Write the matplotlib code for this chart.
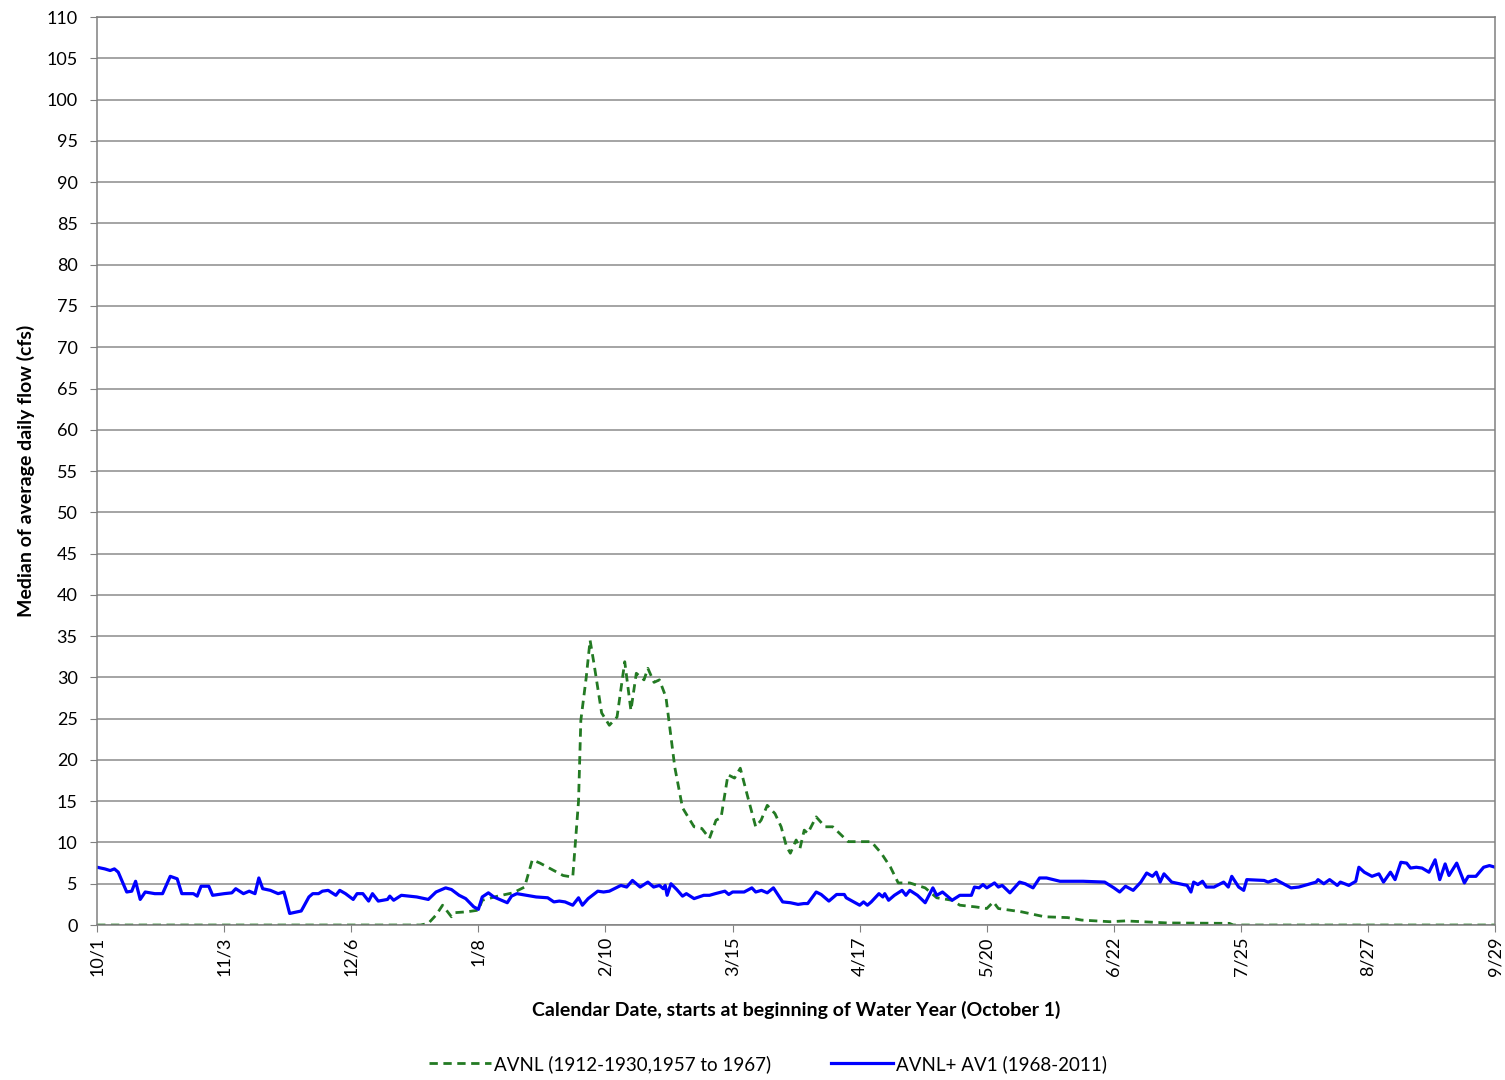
import numpy as np
import matplotlib.pyplot as plt
from matplotlib.ticker import MultipleLocator

plt.rcParams['font.family'] = ['Lato', 'DejaVu Sans']

# day of water year (0 = Oct 1) and median flow (cfs)
avnl_day = [0, 84, 86, 88, 89.7, 92, 93, 96, 99, 100, 104, 108, 111, 113, 115, 117,
            121, 123.5, 125, 125.6, 127, 128, 129, 131, 133, 135, 137, 138.6, 140,
            142, 143, 144.6, 146, 147.7, 150, 152, 155, 157, 159, 160.7, 162, 163.8,
            165.5, 167, 169, 171, 172.4, 174, 176, 177.6, 179, 180, 181.5, 182.5,
            183.6, 184.5, 186.7, 189, 191, 195, 201, 203.6, 206, 208, 211, 215, 218,
            222, 224, 228, 231, 232.7, 234, 240, 246, 252, 255.6, 263, 267, 278, 294,
            295, 363]
avnl_flow = [0, 0, 0.2, 1.2, 2.4, 1.0, 1.5, 1.6, 1.8, 3.0, 3.5, 3.9, 4.6, 7.9, 7.5, 7.0,
             6.0, 5.8, 15.0, 24.8, 30.0, 34.5, 31.7, 25.7, 24.2, 25.2, 31.9, 26.0, 30.5,
             29.7, 31.1, 29.4, 29.7, 27.6, 19.1, 14.2, 11.9, 11.7, 10.5, 12.7, 13.0, 18.2,
             17.8, 19.0, 15.4, 11.9, 12.7, 14.5, 13.5, 11.9, 9.5, 8.7, 10.3, 9.3,
             11.5, 11.1, 13.1, 11.9, 11.9, 10.1, 10.1, 8.7, 7.0, 5.1, 5.1, 4.5, 3.3,
             3.0, 2.4, 2.2, 2.0, 2.8, 2.0, 1.6, 1.0, 0.9, 0.6, 0.4, 0.5, 0.25, 0.2,
             0, 0]

av1_day = [0, 2, 3.4, 4.5, 5.5, 6.8, 7.7, 9, 10, 11.2, 12.5, 15, 17, 19, 20.8, 22, 25,
           26, 27, 29, 30, 33, 35, 36, 38, 39.5, 41, 42, 43, 45, 47, 48.5, 49, 50, 53,
           53.6, 55, 56, 57.5, 58.5, 60, 62, 63, 64.5, 66.5, 67.5, 69, 70.5, 71.5, 73,
           75.4, 76, 77, 79, 81, 83, 86, 88, 90.5, 92, 94, 95.7, 97.8, 99, 100, 101.6,
           103, 106.5, 107.6, 109, 114, 117, 118.6, 120, 121.5, 123.5, 125, 126, 127.5,
           130, 131.5, 133, 136, 137.5, 139, 141, 143, 144.5, 146, 147, 147.5, 148, 149,
           150.5, 152, 153, 155, 157.5, 159, 160.5, 163, 164, 165, 168, 170, 171,
           172.5, 174, 175.6, 178, 180, 182, 183.5, 184.5, 186.7, 188, 190, 192, 194,
           194.5, 198, 199, 200, 201, 203, 204, 204.5, 205.5, 207, 209, 210, 211, 213,
           215, 217, 218, 219.5, 222, 224, 227, 227.8, 229, 230, 231, 233, 234, 235,
           237, 239.5, 241, 243, 244.7, 246.5, 250, 256, 261.6, 264, 265.5, 267, 269,
           271, 272.5, 274, 275, 276, 277, 279, 283, 284, 284.7, 285.8, 287, 288, 290,
           292.5, 293.7, 294.6, 296.4, 297.7, 298.5, 303, 304, 306, 308, 310, 312, 315,
           316.5, 317, 318.5, 320, 322, 322.8, 325, 326.8, 327.6, 329, 331, 332.8, 334,
           335.8, 337, 338.5, 340, 341, 342.5, 344, 345.8, 347.4, 348.6, 350, 351, 353,
           355, 356, 358, 360, 361.5, 363]
av1_flow = [7.0, 6.8, 6.6, 6.8, 6.4, 5.0, 4.0, 4.1, 5.3, 3.1, 4.0, 3.8, 3.8, 5.9, 5.6,
            3.8, 3.8, 3.5, 4.7, 4.7, 3.6, 3.8, 3.9, 4.4, 3.8, 4.1, 3.8, 5.7, 4.4, 4.2,
            3.8, 4.0, 3.2, 1.4, 1.7, 2.2, 3.4, 3.8, 3.8, 4.1, 4.2, 3.6, 4.2, 3.8, 3.1,
            3.8, 3.8, 2.9, 3.8, 2.9, 3.1, 3.5, 3.0, 3.6, 3.5, 3.4, 3.1, 4.0, 4.5, 4.3,
            3.6, 3.2, 2.2, 1.9, 3.4, 3.9, 3.4, 2.7, 3.5, 3.8, 3.4, 3.3, 2.8, 2.9, 2.8,
            2.4, 3.3, 2.4, 3.2, 4.1, 4.0, 4.1, 4.8, 4.6, 5.4, 4.6, 5.2, 4.6, 4.8, 4.4,
            4.8, 3.6, 5.0, 4.3, 3.5, 3.8, 3.2, 3.6, 3.6, 3.8, 4.1, 3.7, 4.0, 4.0, 4.5,
            4.0, 4.2, 3.9, 4.5, 2.8, 2.7, 2.5, 2.6, 2.6, 4.0, 3.7, 2.9, 3.7, 3.7, 3.3,
            2.4, 2.8, 2.4, 2.8, 3.8, 3.4, 3.8, 3.0, 3.6, 4.2, 3.6, 4.2, 3.6, 2.7, 4.5,
            3.6, 4.0, 3.0, 3.6, 3.6, 4.6, 4.5, 4.9, 4.5, 5.1, 4.6, 4.8, 3.9, 5.2, 5.0,
            4.5, 5.7, 5.7, 5.3, 5.3, 5.2, 4.5, 4.0, 4.7, 4.2, 5.2, 6.3, 5.9, 6.4, 5.2,
            6.2, 5.2, 4.8, 4.0, 5.2, 4.9, 5.3, 4.6, 4.6, 5.2, 4.6, 5.9, 4.6, 4.2, 5.5,
            5.4, 5.2, 5.5, 5.0, 4.5, 4.6, 5.0, 5.2, 5.5, 5.0, 5.5, 4.8, 5.2, 4.8, 5.3,
            7.0, 6.4, 5.9, 6.2, 5.2, 6.4, 5.5, 7.6, 7.5, 6.9, 7.0, 6.9, 6.4, 7.9, 5.5,
            7.4, 6.0, 7.5, 5.1, 5.9, 5.9, 7.0, 7.2, 7.0]

tick_days = np.arange(0, 364, 33)
tick_labels = ['10/1', '11/3', '12/6', '1/8', '2/10', '3/15', '4/17', '5/20',
               '6/22', '7/25', '8/27', '9/29']

fig = plt.figure(figsize=(15.05, 10.8), dpi=100)
ax = fig.add_axes([0.0645, 0.1435, 0.9290, 0.8407])

ax.plot(avnl_day, avnl_flow, color='#237a23', linestyle=(0, (3, 2)), linewidth=2,
        label='AVNL (1912-1930,1957 to 1967)')
ax.plot(av1_day, av1_flow, color='#0000ff', linewidth=2.3,
        label='AVNL+ AV1 (1968-2011)')

ax.set_xlim(0, 363)
ax.set_ylim(0, 110)
ax.yaxis.set_major_locator(MultipleLocator(5))
ax.set_xticks(tick_days)
ax.set_xticklabels(tick_labels, rotation=90, fontsize=13)
ax.tick_params(axis='y', labelsize=13, length=5, color='#808080', pad=9)
ax.tick_params(axis='x', length=5, color='#808080')
ax.grid(axis='y', color='#8c8c8c', linewidth=1.1)
ax.set_axisbelow(True)
for s in ax.spines.values():
    s.set_color('#808080')
    s.set_linewidth(1.1)

ax.set_ylabel('Median of average daily flow (cfs)', fontsize=14, fontweight='bold',
              labelpad=8)
ax.set_xlabel('Calendar Date, starts at beginning of Water Year (October 1)',
              fontsize=14, fontweight='bold', labelpad=18)

ax.legend(loc='center', bbox_to_anchor=(0.48, -0.153), ncol=2, frameon=False,
          fontsize=13.5, handlelength=3.3, columnspacing=3.2, handletextpad=0.15)

plt.savefig('out.png', dpi=100)
